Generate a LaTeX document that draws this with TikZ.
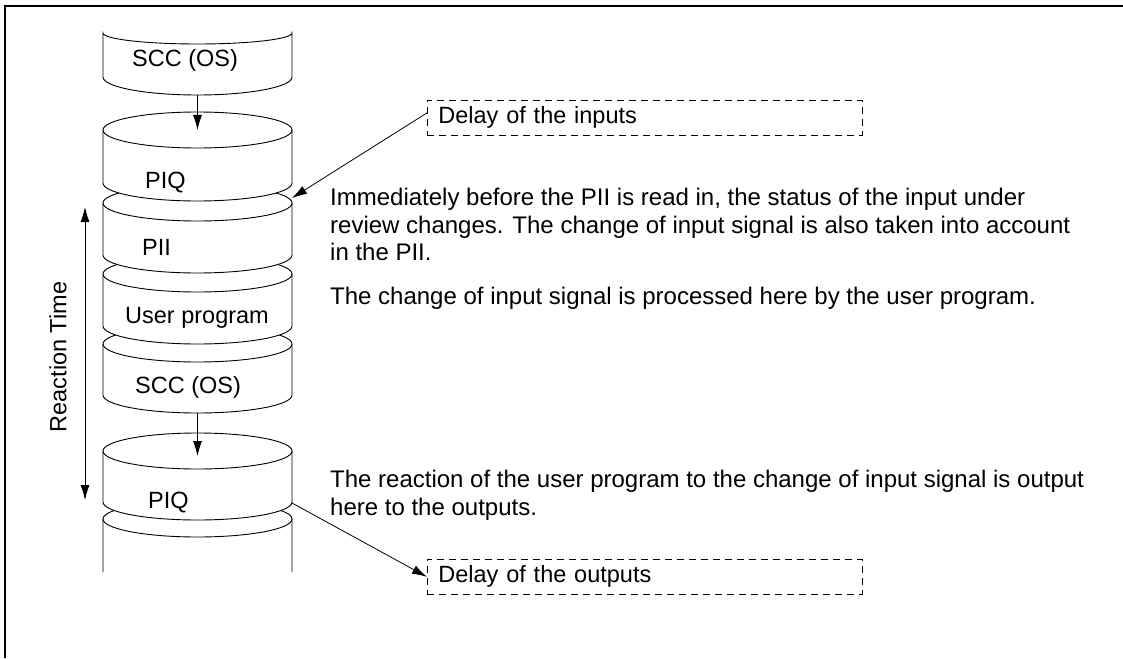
\documentclass[tikz,border=0pt]{standalone}
\usepackage{fontspec}
\setmainfont{Liberation Sans}
\usetikzlibrary{arrows.meta}
\newcommand\cylseg[2]{%
  \path[seg] (103,#2) arc[start angle=180,end angle=0,x radius=94.5,y radius=18]
    -- (292,#1) arc[start angle=0,end angle=-180,x radius=94.5,y radius=18] -- cycle;
  \draw[segline] (103,#1) arc[start angle=180,end angle=0,x radius=94.5,y radius=18];
}
\begin{document}
\begin{tikzpicture}[x=1pt,y=-1pt,
  seg/.style={draw=black, fill=white, line width=0.9pt},
  segline/.style={draw=black, line width=0.9pt},
  txt/.style={anchor=base west, inner sep=0pt, font=\fontsize{23.5}{27.5}\selectfont},
  notetxt/.style={anchor=base west, inner sep=0pt, font=\fontsize{24}{27.5}\selectfont},
  delaybox/.style={draw, dash pattern=on 7pt off 5pt, line width=0.8pt, minimum height=35pt,
     text width=413pt, inner xsep=11pt, inner ysep=0pt, align=left, anchor=north west,
     font=\fontsize{23.5}{27.5}\selectfont},
  arr/.style={-{Latex[length=15pt,width=9pt]}, line width=0.8pt},
  darr/.style={{Latex[length=15pt,width=9pt]}-{Latex[length=15pt,width=9pt]}, line width=0.8pt},
]
\useasboundingbox (0,0) rectangle (1123,658);
\fill[white] (0,0) rectangle (1123,658);
% frame
\draw[line width=1.6pt] (5,658) -- (5,6) -- (1123,6);

% column, bottom-most segment first
\path[fill=white] (103,572) -- (103,519) arc[start angle=180,end angle=360,x radius=94.5,y radius=18] -- (292,572) -- cycle;
\draw[segline] (103,572) -- (103,519) arc[start angle=180,end angle=360,x radius=94.5,y radius=18] -- (292,572);
\draw[segline] (103,519) arc[start angle=180,end angle=0,x radius=94.5,y radius=18];
\cylseg{451}{502}
\cylseg{344}{395}
\cylseg{274}{326}
\cylseg{203}{255}
\cylseg{130}{183}
% top partial segment
\path[seg] (103,77) arc[start angle=180,end angle=0,x radius=94.5,y radius=18]
   -- (292,33) arc[start angle=0,end angle=180,x radius=94.5,y radius=11] -- cycle;

% coordinates for connectors
\coordinate (scc1b) at (197.5,95);
\coordinate (piq1t) at (197.5,130);
\coordinate (scc2b) at (197.5,413);
\coordinate (piq2t) at (197.5,456);
\coordinate (piiR) at (292,198);
\coordinate (piq2R) at (292,503);
\coordinate (rtTop) at (85,207);
\coordinate (rtBot) at (85,500);

% labels in column
\node[txt] (lscc1) at (132,67) {SCC (OS)};
\node[txt] (lpiq1) at (145,188) {PIQ};
\node[txt] (lpii) at (142,255) {PII};
\node[txt] (lup) at (125,323) {User program};
\node[txt] (lscc2) at (135,393) {SCC (OS)};
\node[txt] (lpiq2) at (148,508) {PIQ};

% reaction time
\draw[darr] (rtTop) -- (rtBot);
\node[rotate=90, inner sep=0pt, font=\fontsize{23.5}{27.5}\selectfont] (rt) at (58,357) {Reaction Time};

% delay boxes
\node[delaybox] (inbox) at (427,100) {Delay of the inputs};
\node[delaybox] (outbox) at (427,559) {Delay of the outputs};

% notes
\node[notetxt] (n1) at (330,205.5) {Immediately before the PII is read in, the status of the input under};
\node[notetxt] (n2) at (330,233) {review changes. The change of input signal is also taken into account};
\node[notetxt] (n3) at (330,260.5) {in the PII.};
\node[notetxt] (n4) at (330,304.5) {The change of input signal is processed here by the user program.};
\node[notetxt] (n5) at (330,487.5) {The reaction of the user program to the change of input signal is output};
\node[notetxt] (n6) at (330,515.5) {here to the outputs.};

% connectors
\draw[arr] (scc1b) -- (piq1t);
\draw[arr] (scc2b) -- (piq2t);
\draw[arr] ([yshift=5pt]inbox.west) -- (piiR);
\draw[arr] (piq2R) -- (outbox.west);
\end{tikzpicture}
\end{document}
